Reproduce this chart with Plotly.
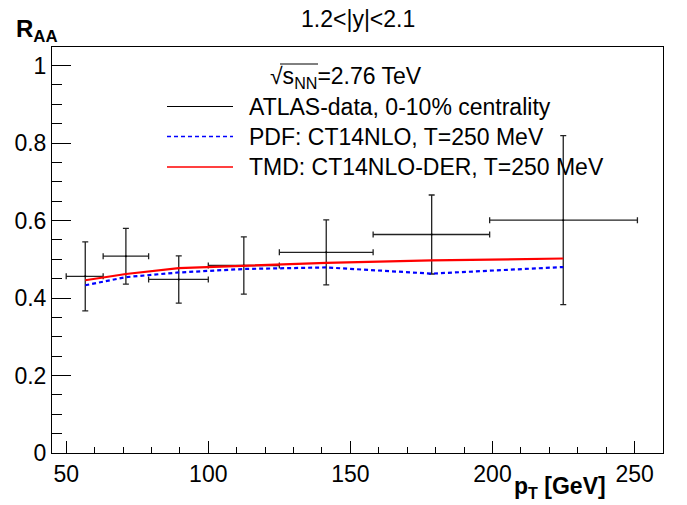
import plotly.graph_objects as go

# ---- data ----
pt_center = [56.7, 71.0, 89.6, 112.5, 141.5, 178.6, 224.9]
bin_lo = [50, 63, 79, 100, 125, 158, 199]
bin_hi = [63, 79, 100, 125, 158, 199, 251]
raa_data = [0.456, 0.508, 0.448, 0.484, 0.518, 0.564, 0.601]
raa_err = [0.089, 0.072, 0.061, 0.074, 0.084, 0.102, 0.218]
raa_pdf = [0.433, 0.454, 0.466, 0.475, 0.479, 0.463, 0.480]
raa_tmd = [0.446, 0.462, 0.477, 0.484, 0.491, 0.497, 0.502]

ex_minus = [c - l for c, l in zip(pt_center, bin_lo)]
ex_plus = [h - c for c, h in zip(pt_center, bin_hi)]

FONT = "Liberation Sans"
FS = 23

# plot frame in pixels
L, R, T, B = 52, 663, 47, 453
W_, H_ = 687, 505


def px(xp):
    return (xp - L) / (R - L)


def py(yp):
    return (B - yp) / (B - T)


fig = go.Figure()
fig.add_trace(go.Scatter(
    x=pt_center, y=raa_data, mode="markers",
    name="ATLAS-data, 0-10% centrality",
    marker=dict(color="black", size=2),
    error_y=dict(type="data", array=raa_err, color="#222222", thickness=1.3, width=3),
    error_x=dict(type="data", array=ex_plus, arrayminus=ex_minus, color="#222222",
                 thickness=1.3, width=3),
    showlegend=False,
))
fig.add_trace(go.Scatter(
    x=pt_center, y=raa_pdf, mode="lines", name="PDF: CT14NLO, T=250 MeV",
    line=dict(color="#0000ff", width=2.2, dash="4px,3px"), showlegend=False,
))
fig.add_trace(go.Scatter(
    x=pt_center, y=raa_tmd, mode="lines", name="TMD: CT14NLO-DER, T=250 MeV",
    line=dict(color="#ff0000", width=2.2), showlegend=False,
))

# legend (drawn to match the ROOT-style layout)
legend_items = [
    ("ATLAS-data, 0-10% centrality", "black", 1.2, "solid", 106.5),
    ("PDF: CT14NLO, T=250 MeV", "#0000ff", 1.5, "4px,3px", 136.5),
    ("TMD: CT14NLO-DER, T=250 MeV", "#ff0000", 1.5, "solid", 167.0),
]
shapes = []
annotations = []
for text, col, lw, dash, ypix in legend_items:
    shapes.append(dict(type="line", xref="paper", yref="paper",
                       x0=px(167), x1=px(233), y0=py(ypix), y1=py(ypix),
                       line=dict(color=col, width=lw, dash=dash)))
    annotations.append(dict(text=text, xref="paper", yref="paper",
                            x=px(247), y=py(ypix), xanchor="left", yanchor="middle",
                            showarrow=False, font=dict(family=FONT, size=FS, color="black")))

# sqrt(s_NN) text with radical overbar
annotations.append(dict(text="√s<sub>NN</sub>=2.76 TeV", xref="paper", yref="paper",
                        x=px(268), y=py(77), xanchor="left", yanchor="middle",
                        showarrow=False, font=dict(family=FONT, size=FS, color="black")))
shapes.append(dict(type="line", xref="paper", yref="paper",
                   x0=px(280), x1=px(318), y0=py(64), y1=py(64),
                   line=dict(color="black", width=1)))

# title, axis titles
annotations.append(dict(text="1.2<|y|<2.1", xref="paper", yref="paper",
                        x=px(358), y=py(19), xanchor="center", yanchor="middle",
                        showarrow=False, font=dict(family=FONT, size=FS, color="black")))
annotations.append(dict(text="<b>R<sub>AA</sub></b>", xref="paper", yref="paper",
                        x=px(14), y=py(30), xanchor="left", yanchor="middle",
                        showarrow=False, font=dict(family=FONT, size=FS + 1, color="black")))
annotations.append(dict(text="<b>p<sub>T</sub> [GeV]</b>", xref="paper", yref="paper",
                        x=px(608), y=py(487), xanchor="right", yanchor="middle",
                        showarrow=False, font=dict(family=FONT, size=FS, color="black")))

fig.update_layout(
    width=W_, height=H_,
    margin=dict(l=L, r=W_ - R, t=T, b=H_ - B, pad=0),
    plot_bgcolor="white", paper_bgcolor="white",
    font=dict(family=FONT, size=FS, color="black"),
    shapes=shapes, annotations=annotations,
    showlegend=False,
)
fig.update_xaxes(
    range=[45, 260], tick0=0, dtick=50, ticks="inside", ticklen=12, tickwidth=1,
    tickcolor="black", showline=True, linecolor="black", linewidth=1, mirror=True,
    showgrid=False, zeroline=False,
    minor=dict(dtick=10, tick0=0, ticks="inside", ticklen=6, tickcolor="black", showgrid=False),
    tickfont=dict(family=FONT, size=FS),
)
fig.update_yaxes(
    range=[0, 1.048], tick0=0, dtick=0.2, ticks="inside", ticklen=19, tickwidth=1,
    tickcolor="black", showline=True, linecolor="black", linewidth=1, mirror=True,
    showgrid=False, zeroline=False,
    minor=dict(dtick=0.05, tick0=0, ticks="inside", ticklen=10, tickcolor="black", showgrid=False),
    tickfont=dict(family=FONT, size=FS),
)

fig.write_html("out.html",
               config={"displayModeBar": False, "staticPlot": True},
               post_script="document.body.style.margin='0';document.body.style.overflow='hidden';")
